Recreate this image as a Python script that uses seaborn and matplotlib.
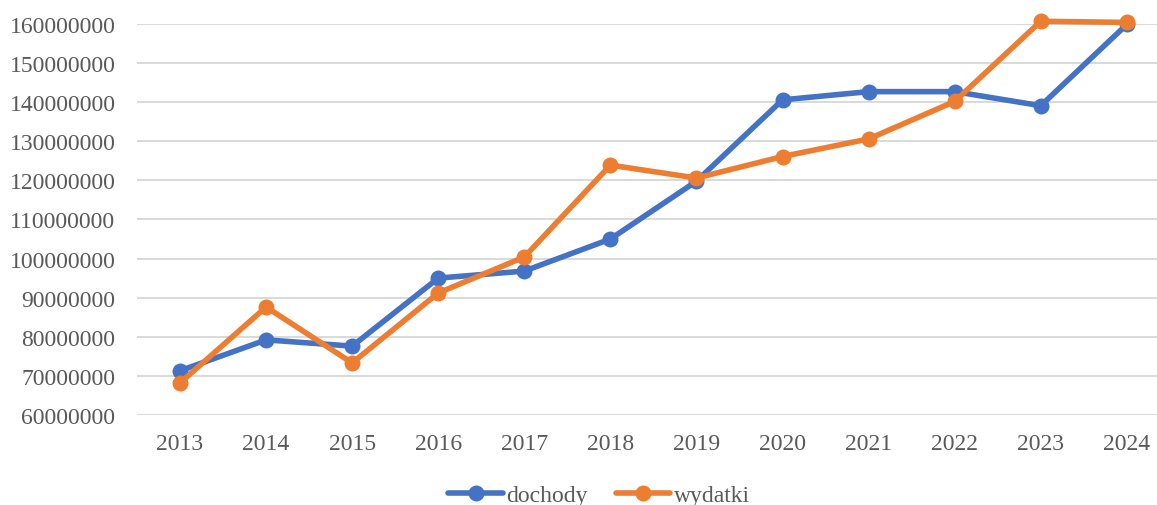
import matplotlib
matplotlib.use("Agg")
import matplotlib.pyplot as plt
import seaborn as sns
import pandas as pd

years = ["2013", "2014", "2015", "2016", "2017", "2018", "2019", "2020", "2021", "2022", "2023", "2024"]
dochody = [71.3e6, 79.2e6, 77.6e6, 95.0e6, 96.8e6, 105.0e6, 119.8e6, 140.6e6, 142.7e6, 142.7e6, 139.1e6, 159.9e6]
wydatki = [68.2e6, 87.6e6, 73.3e6, 91.2e6, 100.4e6, 123.9e6, 120.6e6, 126.1e6, 130.6e6, 140.2e6, 160.7e6, 160.4e6]
series_names = ["dochody", "wydatki"]
yticks = list(range(60000000, 160000001, 10000000))

df = pd.DataFrame({
    "rok": years * 2,
    "pos": list(range(len(years))) * 2,
    "wartosc": dochody + wydatki,
    "seria": [series_names[0]] * len(years) + [series_names[1]] * len(years),
})

sns.set_theme(style="white")
plt.rcParams["font.family"] = ["Liberation Serif", "DejaVu Serif"]

fig = plt.figure(figsize=(11.57, 5.06), dpi=100)
ax = fig.add_axes([0.1184, 0.178, 0.8816, 0.7726])

palette = {"dochody": "#4472C4", "wydatki": "#ED7D31"}
sns.lineplot(data=df, x="pos", y="wartosc", hue="seria", palette=palette,
             marker="o", markersize=11.5, markeredgewidth=0, linewidth=4,
             ax=ax, legend=True, clip_on=False, zorder=3)

ax.set_xlim(-0.5, 11.35)
ax.set_ylim(60000000, 160000000)
ax.set_yticks(yticks)
ax.set_yticklabels([str(v) for v in yticks])
ax.set_xticks(range(len(years)))
ax.set_xticklabels(years)
ax.grid(axis="y", color="#D9D9D9", linewidth=1.4)
ax.grid(axis="x", visible=False)
for s in ax.spines.values():
    s.set_visible(False)
ax.tick_params(axis="both", length=0, labelsize=17, colors="#595959")
ax.tick_params(axis="y", pad=15.5)
ax.tick_params(axis="x", pad=13)
ax.set_xlabel("")
ax.set_ylabel("")

handles, labels = ax.get_legend_handles_labels()
ax.legend_.remove()
leg = fig.legend(handles, labels, loc="center", bbox_to_anchor=(0.518, 0.019),
                 ncol=2, frameon=False, fontsize=17, handlelength=2.3,
                 handletextpad=0.15, columnspacing=1.2, borderpad=0)
for t in leg.get_texts():
    t.set_color("#595959")

fig.savefig("out.png", dpi=100)
